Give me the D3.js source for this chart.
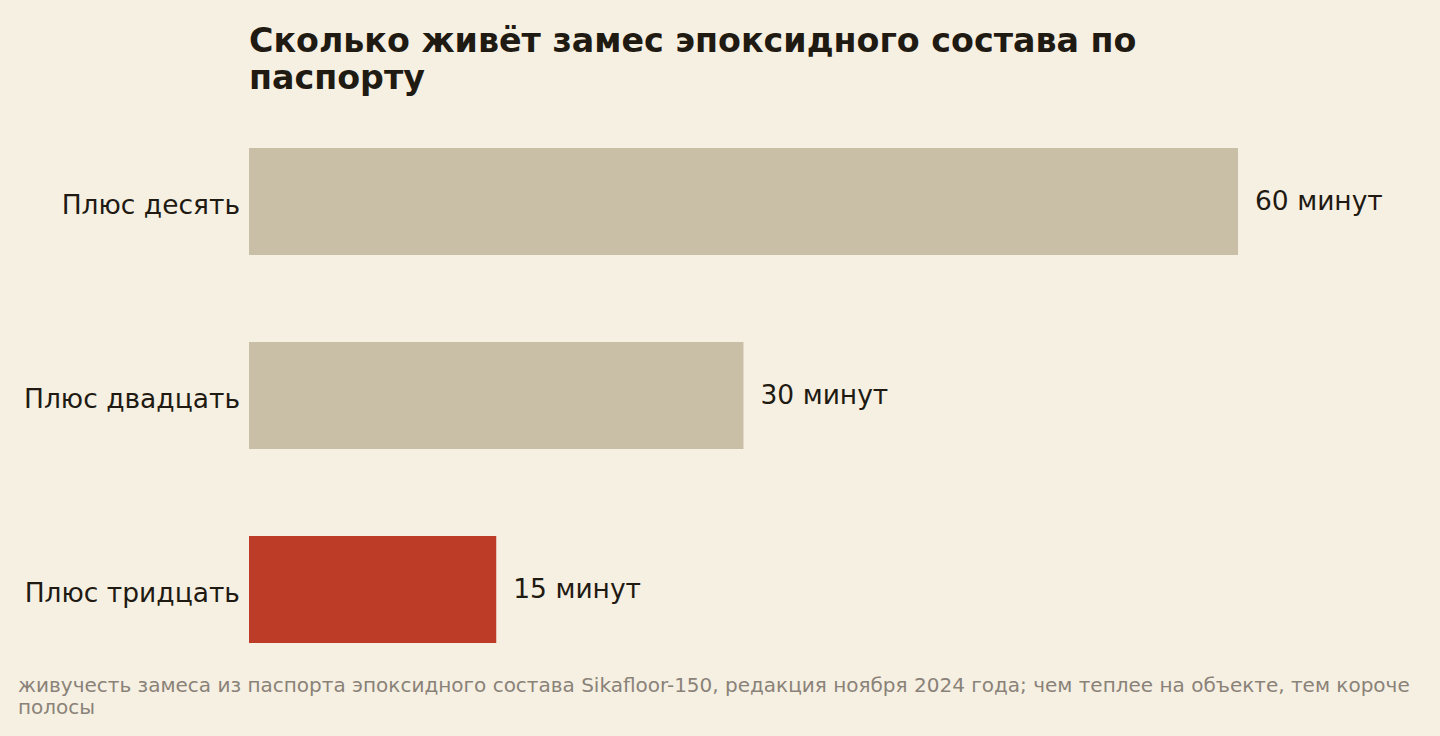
<!DOCTYPE html>
<html>
<head>
<meta charset="utf-8">
<script src="https://cdn.jsdelivr.net/npm/d3@7"></script>
<style>
  html, body { margin: 0; padding: 0; background: #f6f0e3; }
  svg { display: block; font-family: "DejaVu Sans", sans-serif; }
</style>
</head>
<body>
<script>
const width = 1440;
const height = 736;
const margin = { left: 249, top: 148, right: 202, bottom: 93 };

const categories = ["Плюс десять", "Плюс двадцать", "Плюс тридцать"];
const values = [60, 30, 15];
const valueLabels = ["60 минут", "30 минут", "15 минут"];
const highlight = [false, false, true];

const titleLines = ["Сколько живёт замес эпоксидного состава по", "паспорту"];
const noteLines = [
  "живучесть замеса из паспорта эпоксидного состава Sikafloor-150, редакция ноября 2024 года; чем теплее на объекте, тем короче",
  "полосы"
];

const svg = d3.select("body").append("svg")
    .attr("width", width)
    .attr("height", height);

svg.append("rect")
    .attr("width", width)
    .attr("height", height)
    .attr("fill", "#f6f0e3");

const x = d3.scaleLinear()
    .domain([0, 60])
    .range([margin.left, width - margin.right]);

const y = d3.scaleBand()
    .domain(categories)
    .range([margin.top, height - margin.bottom])
    .paddingInner(87 / 194)
    .paddingOuter(0);

// bars
svg.append("g")
    .selectAll("rect")
    .data(categories)
    .join("rect")
    .attr("x", x(0))
    .attr("y", d => y(d))
    .attr("width", (d, i) => x(values[i]) - x(0))
    .attr("height", y.bandwidth())
    .attr("fill", (d, i) => highlight[i] ? "#bc3c27" : "#c9bfa7");

// category labels
svg.append("g")
    .selectAll("text")
    .data(categories)
    .join("text")
    .attr("x", x(0) - 9)
    .attr("y", d => y(d) + y.bandwidth() / 2 + 3)
    .attr("dy", "0.35em")
    .attr("text-anchor", "end")
    .attr("font-size", 26.5)
    .attr("fill", "#1f1a12")
    .text(d => d);

// value labels
svg.append("g")
    .selectAll("text")
    .data(categories)
    .join("text")
    .attr("x", (d, i) => x(values[i]) + 17)
    .attr("y", d => y(d) + y.bandwidth() / 2 - 1)
    .attr("dy", "0.35em")
    .attr("font-size", 26.5)
    .attr("fill", "#1f1a12")
    .text((d, i) => valueLabels[i]);

// title
svg.append("text")
    .attr("x", margin.left)
    .attr("y", 52)
    .attr("font-size", 33.3)
    .attr("font-weight", "bold")
    .attr("fill", "#1f1a12")
    .selectAll("tspan")
    .data(titleLines)
    .join("tspan")
    .attr("x", margin.left)
    .attr("dy", (d, i) => i === 0 ? 0 : 37)
    .text(d => d);

// footnote
svg.append("text")
    .attr("x", 18)
    .attr("y", 692)
    .attr("font-size", 20)
    .attr("fill", "#8a8278")
    .selectAll("tspan")
    .data(noteLines)
    .join("tspan")
    .attr("x", 18)
    .attr("dy", (d, i) => i === 0 ? 0 : 22)
    .text(d => d);
</script>
</body>
</html>
